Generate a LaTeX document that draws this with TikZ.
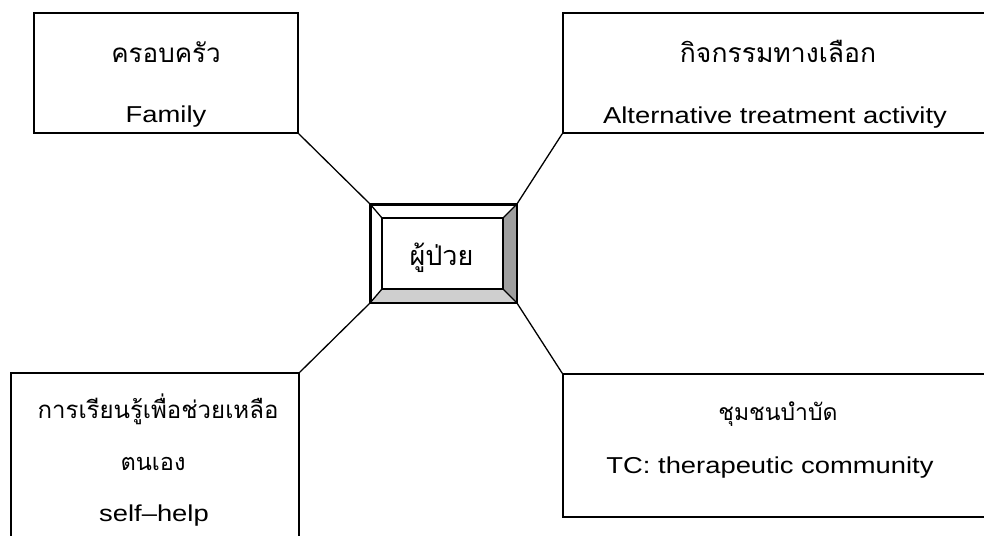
\documentclass[tikz,border=0pt]{standalone}
\usepackage{fontspec}
\setmainfont{Liberation Sans}[FakeStretch=1.19]
\newfontfamily\thai[Script=Thai]{Loma}
\begin{document}
\begin{tikzpicture}[x=1pt,y=-1pt,
  box/.style={draw=black,line width=1.6pt,fill=white,inner sep=0pt,rectangle},
  conn/.style={draw=black,line width=1.3pt},
  thaitxt/.style={inner sep=0pt,anchor=base,font=\thai\fontsize{26}{30}\selectfont},
  lattxt/.style={inner sep=0pt,anchor=base,font=\fontsize{23}{27}\selectfont}]
\useasboundingbox (0,0) rectangle (984,535);
\clip (0,0) rectangle (984,535);
\fill[white] (0,0) rectangle (984,535);
% boxes
\node[box,minimum width=264pt,minimum height=120pt] (fam) at (166,73) {};
\node[box,minimum width=429pt,minimum height=120pt] (alt) at (777.5,73) {};
\node[box,minimum width=288pt,minimum height=172pt] (self) at (155,459) {};
\node[box,minimum width=429pt,minimum height=143pt] (tc) at (777.5,445.5) {};
% centre bevel box
\node[box,minimum width=145pt,minimum height=97pt] (outer) at (443.5,253.5) {};
\node[inner sep=0pt,minimum width=121pt,minimum height=71pt] (inner) at (442.5,253.5) {};
\fill[gray!75] (outer.north east) -- (outer.south east) -- (inner.south east) -- (inner.north east) -- cycle;
\fill[gray!38] (outer.south west) -- (outer.south east) -- (inner.south east) -- (inner.south west) -- cycle;
\draw[line width=1.6pt] (outer.north west) rectangle (outer.south east);
\draw[line width=1.6pt] (inner.north west) rectangle (inner.south east);
\draw[line width=1.3pt] (outer.north west) -- (inner.north west)
  (outer.north east) -- (inner.north east)
  (outer.south west) -- (inner.south west)
  (outer.south east) -- (inner.south east);
% connectors
\draw[conn] (fam.south east) -- (outer.north west);
\draw[conn] (alt.south west) -- (outer.north east);
\draw[conn] (self.north east) -- (outer.south west);
\draw[conn] (tc.north west) -- (outer.south east);
% texts
\node[thaitxt] (t1) at (166,63) {ครอบครัว};
\node[lattxt] (e1) at (166,122) {Family};
\node[thaitxt,font=\thai\fontsize{26.5}{30}\selectfont] (t2) at (778,63) {กิจกรรมทางเลือก};
\node[lattxt] (e2) at (775,123) {Alternative treatment activity};
\node[thaitxt,font=\thai\fontsize{24}{30}\selectfont] (t3) at (158,418) {การเรียนรู้เพื่อช่วยเหลือ};
\node[thaitxt,font=\thai\fontsize{23.5}{30}\selectfont] (t3b) at (153,470) {ตนเอง};
\node[lattxt] (e3) at (154,521) {self–help};
\node[thaitxt,font=\thai\fontsize{23}{30}\selectfont] (t4) at (778,420) {ชุมชนบำบัด};
\node[lattxt] (e4) at (770,473) {TC: therapeutic community};
\node[thaitxt,font=\thai\fontsize{27}{30}\selectfont] (c) at (441.5,265) {ผู้ป่วย};
\end{tikzpicture}
\end{document}
